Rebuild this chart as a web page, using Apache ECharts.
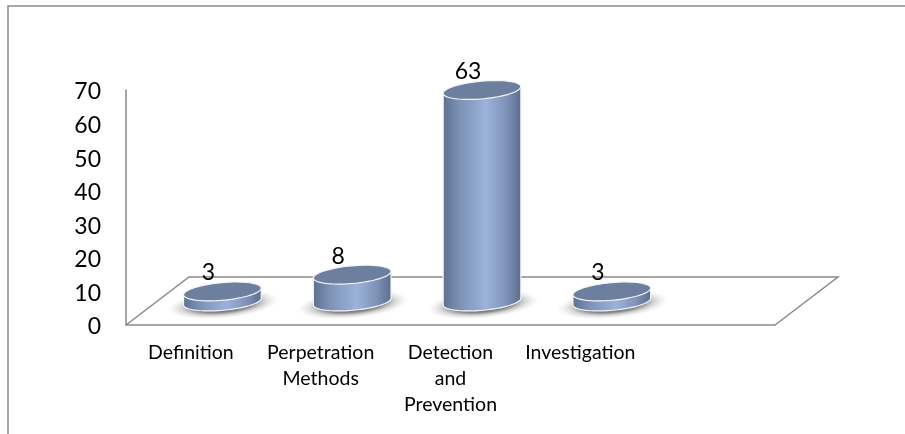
<!DOCTYPE html>
<html>
<head>
<meta charset="utf-8">
<style>html,body{margin:0;padding:0;background:#fff}#chart{width:905px;height:434px}</style>
<script src="https://cdn.jsdelivr.net/npm/echarts@6/dist/echarts.min.js"></script>
</head>
<body>
<div id="chart"></div>
<script>
const categories = ['Definition', 'Perpetration\nMethods', 'Detection\nand\nPrevention', 'Investigation', ''];
const counts = [3, 8, 63, 3];
const valueTicks = { min: 0, max: 70, interval: 10 };

// Depth of the floor plane, and the offset at which the cylinders stand on it.
const DEPTH_X = 63, DEPTH_Y = -48, STAND_X = 31.5, STAND_Y = -23.5;
const RX = 39, RY = 8.8, TILT = 0.09;
const AXIS_GREY = '#8a8a8a';
const FONT = 'Lato';

function ellipsePoint(cx, cy, t) {
  const x = RX * Math.cos(t), y = RY * Math.sin(t);
  return [cx + x * Math.cos(TILT) + y * Math.sin(TILT), cy - x * Math.sin(TILT) + y * Math.cos(TILT)];
}

function arcPath(cx, cy, from, to, n) {
  const pts = [];
  for (let i = 0; i <= n; i++) pts.push(ellipsePoint(cx, cy, from + (to - from) * i / n));
  return pts;
}

function renderCylinder(params, api) {
  const i = api.value(0), v = api.value(1);
  const base = api.coord([i, 0]), top = api.coord([i, v]);
  const cx = base[0] + STAND_X;
  const by = base[1] + STAND_Y, ty = top[1] + STAND_Y;

  const bodyPts = arcPath(cx, by, Math.PI, 0, 48).concat(arcPath(cx, ty, 0, -Math.PI, 48));

  return {
    type: 'group',
    children: [
      {
        type: 'circle',
        x: cx + 1, y: by + 3, scaleY: 0.25, rotation: TILT,
        shape: { cx: 0, cy: 0, r: 56 },
        style: {
          fill: {
            type: 'radial', x: 0.5, y: 0.5, r: 0.5,
            colorStops: [
              { offset: 0, color: 'rgba(70,70,70,0.9)' },
              { offset: 0.55, color: 'rgba(85,85,85,0.72)' },
              { offset: 0.75, color: 'rgba(130,130,130,0.32)' },
              { offset: 1, color: 'rgba(200,200,200,0)' }
            ]
          }
        }
      },
      {
        type: 'polygon',
        shape: { points: bodyPts },
        style: {
          stroke: '#f4f6fa', lineWidth: 1.2,
          fill: {
            type: 'linear', x: 0, y: 0, x2: 1, y2: 0,
            colorStops: [
              { offset: 0, color: '#5d7091' },
              { offset: 0.22, color: '#7d92b7' },
              { offset: 0.55, color: '#9cb2da' },
              { offset: 0.8, color: '#7f94b9' },
              { offset: 1, color: '#5b6d8c' }
            ]
          }
        }
      },
      {
        type: 'polygon',
        shape: { points: arcPath(cx, ty, 0, 2 * Math.PI, 64) },
        style: { fill: '#6d7f9f', stroke: '#f4f6fa', lineWidth: 1.2 }
      },
      {
        type: 'text',
        x: cx - 14, y: ty - 18.5,
        style: {
          text: String(v), align: 'center', verticalAlign: 'middle',
          fontFamily: FONT, fontSize: 23, fill: '#000'
        }
      }
    ]
  };
}

function renderFloor(params) {
  const rect = params.coordSys;
  const fl = [rect.x, rect.y + rect.height], fr = [rect.x + rect.width, rect.y + rect.height];
  return {
    type: 'polyline',
    shape: {
      points: [fl, [fl[0] + DEPTH_X, fl[1] + DEPTH_Y], [fr[0] + DEPTH_X, fr[1] + DEPTH_Y], fr]
    },
    style: { stroke: AXIS_GREY, lineWidth: 1.5, fill: null }
  };
}

const chart = echarts.init(document.getElementById('chart'), null, { renderer: 'canvas' });
chart.setOption({
  animation: false,
  backgroundColor: '#fff',
  graphic: [
    {
      type: 'polyline', silent: true,
      shape: { points: [[8, 434], [8, 6], [905, 6]] },
      style: { stroke: AXIS_GREY, lineWidth: 1.5, fill: null }
    }
  ],
  grid: { left: 126, top: 90, width: 649, height: 235 },
  xAxis: {
    type: 'category',
    data: categories,
    axisTick: { show: false },
    axisLine: { lineStyle: { color: AXIS_GREY, width: 1.5 } },
    axisLabel: {
      interval: 0, margin: 15, lineHeight: 26, fontSize: 19.5,
      fontFamily: FONT, color: '#000'
    }
  },
  yAxis: {
    type: 'value',
    min: valueTicks.min, max: valueTicks.max, interval: valueTicks.interval,
    splitLine: { show: false },
    axisTick: { show: false },
    axisLine: { show: true, lineStyle: { color: AXIS_GREY, width: 1.5 } },
    axisLabel: {
      margin: 25, fontSize: 23, fontFamily: FONT, color: '#000',
      verticalAlign: 'top', lineHeight: 4
    }
  },
  series: [
    {
      type: 'custom', coordinateSystem: 'cartesian2d', silent: true, z: 1,
      renderItem: renderFloor, data: [[0, 0]]
    },
    {
      type: 'custom', coordinateSystem: 'cartesian2d', silent: true, z: 2,
      renderItem: renderCylinder,
      encode: { x: 0, y: 1 },
      data: counts.map((v, i) => [i, v])
    }
  ]
});
</script>
</body>
</html>
